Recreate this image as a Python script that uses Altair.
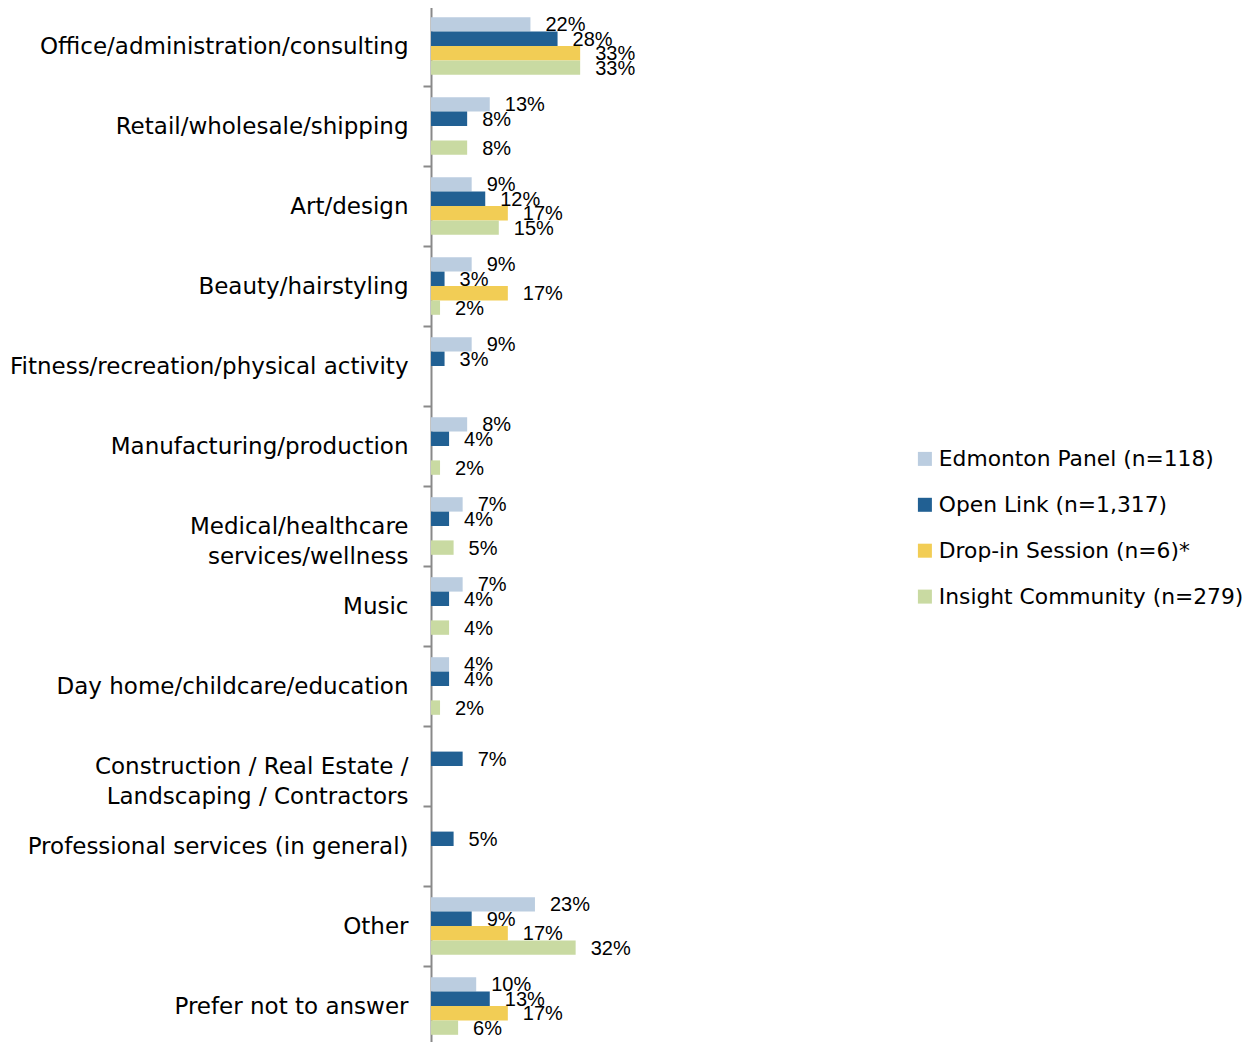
import altair as alt
import pandas as pd

categories = [
    "Office/administration/consulting",
    "Retail/wholesale/shipping",
    "Art/design",
    "Beauty/hairstyling",
    "Fitness/recreation/physical activity",
    "Manufacturing/production",
    "Medical/healthcare services/wellness",
    "Music",
    "Day home/childcare/education",
    "Construction / Real Estate / Landscaping / Contractors",
    "Professional services (in general)",
    "Other",
    "Prefer not to answer",
]
series = [
    "Edmonton Panel (n=118)",
    "Open Link (n=1,317)",
    "Drop-in Session (n=6)*",
    "Insight Community (n=279)",
]
edmonton_panel = [22, 13, 9, 9, 9, 8, 7, 7, 4, None, None, 23, 10]
open_link = [28, 8, 12, 3, 3, 4, 4, 4, 4, 7, 5, 9, 13]
drop_in = [33, None, 17, 17, None, None, None, None, None, None, None, 17, 17]
insight_community = [33, 8, 15, 2, None, 2, 5, 4, 2, None, None, 32, 6]
colors = ["#BBCDE0", "#216093", "#F2CD55", "#C9DAA2"]
line_breaks = {
    "Medical/healthcare services/wellness": ["Medical/healthcare", "services/wellness"],
    "Construction / Real Estate / Landscaping / Contractors": [
        "Construction / Real Estate /",
        "Landscaping / Contractors",
    ],
}

rows = []
for s, vals in zip(series, [edmonton_panel, open_link, drop_in, insight_community]):
    for c, v in zip(categories, vals):
        if v is not None:
            rows.append({"category": c, "series": s, "value": v})
df = pd.DataFrame(rows)

label_expr = ""
for k, parts in line_breaks.items():
    arr = "[" + ",".join("'" + p + "'" for p in parts) + "]"
    label_expr += f"datum.label == '{k}' ? {arr} : "
label_expr += "datum.label"

CAT_FONT = "DejaVu Sans"
VAL_FONT = "Liberation Sans"

y_enc = alt.Y(
    "category:N",
    sort=categories,
    scale=alt.Scale(paddingInner=0.28, paddingOuter=0.14, range=[-2, 1038]),
    axis=alt.Axis(
        title=None,
        labelExpr=label_expr,
        labelFont=CAT_FONT,
        labelFontSize=23,
        labelColor="#000000",
        labelPadding=15,
        labelLineHeight=30,
        labelLimit=600,
        tickSize=8,
        tickWidth=2,
        tickColor="#898989",
        domainColor="#898989",
        domainWidth=2,
        tickOffset=-40,
        labelOffset=40,
        grid=False,
    ),
)
yoff = alt.YOffset(
    "series:N", sort=series, scale=alt.Scale(paddingInner=0, paddingOuter=0)
)
x_enc = alt.X("value:Q", scale=alt.Scale(domain=[0, 100]), axis=None)

base = alt.Chart(df)

bars = base.mark_bar().encode(
    y=y_enc,
    yOffset=yoff,
    x=x_enc,
    color=alt.Color(
        "series:N",
        sort=series,
        scale=alt.Scale(domain=series, range=colors),
        legend=alt.Legend(
            title=None,
            orient="none",
            legendX=483,
            legendY=440,
            symbolType="square",
            symbolSize=196,
            symbolStrokeWidth=0,
            labelFont=CAT_FONT,
            labelFontSize=21.8,
            labelColor="#000000",
            labelOffset=3,
            rowPadding=22.9,
            labelLimit=400,
        ),
    ),
)

texts = base.mark_text(
    align="left", baseline="middle", dx=15, dy=1, font=VAL_FONT, fontSize=20,
    color="#000000",
).transform_calculate(label="datum.value + '%'").encode(
    y=alt.Y("category:N", sort=categories),
    yOffset=alt.YOffset("series:N", sort=series),
    x=alt.X("value:Q"),
    text="label:N",
)

chart = (
    alt.layer(bars, texts)
    .properties(
        width=452,
        height=1034,
        autosize=alt.AutoSizeParams(type="none"),
        padding={"left": 423, "top": 0, "right": 361, "bottom": 0},
    )
    .configure_view(stroke=None)
)

chart.save("out.html", embed_options={"renderer": "svg", "actions": False})
